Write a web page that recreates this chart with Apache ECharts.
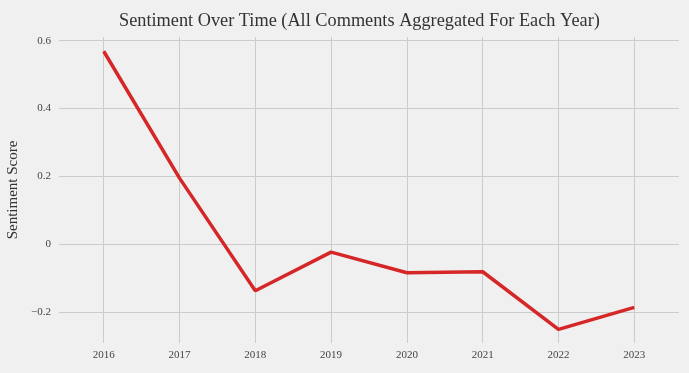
<!DOCTYPE html>
<html>
<head>
<meta charset="utf-8">
<script src="https://cdn.jsdelivr.net/npm/echarts@6/dist/echarts.min.js"></script>
<style>html,body{margin:0;padding:0;background:#f0f0f0}#c{width:689px;height:373px}</style>
</head>
<body>
<div id="c"></div>
<script>
const years = [2016, 2017, 2018, 2019, 2020, 2021, 2022, 2023];
const sentiment = [0.569, 0.195, -0.137, -0.023, -0.084, -0.081, -0.251, -0.186];
const yTicks = [-0.2, 0, 0.2, 0.4, 0.6];
const titleText = 'Sentiment Over Time (All Comments Aggregated For Each Year)';
const yName = 'Sentiment Score';

const chart = echarts.init(document.getElementById('c'), null, {renderer: 'canvas'});
const serif = '"Liberation Serif", "DejaVu Serif", serif';
chart.setOption({
  backgroundColor: '#f0f0f0',
  animation: false,
  title: {
    text: titleText, left: 119 - 5, top: 7,
    textStyle: {fontFamily: serif, fontSize: 18.3, fontWeight: 'normal', color: '#333'}
  },
  grid: {left: 59, right: 10, top: 37, bottom: 30, containLabel: false, outerBoundsMode: 'none'},
  xAxis: {
    type: 'value', min: 2015.41, max: 2023.59,
    axisLine: {show: false}, axisTick: {show: false, customValues: years},
    axisLabel: {customValues: years, fontFamily: serif, fontSize: 11, color: '#444', margin: 7, formatter: v => String(v)},
    splitLine: {show: true, lineStyle: {color: '#cbcbcb', width: 1}}
  },
  yAxis: {
    type: 'value', min: -0.291, max: 0.611,
    name: yName, nameLocation: 'middle', nameGap: 37, nameRotate: 90,
    nameTextStyle: {fontFamily: serif, fontSize: 15, color: '#333'},
    axisLine: {show: false}, axisTick: {show: false, customValues: yTicks},
    axisLabel: {customValues: yTicks, fontFamily: serif, fontSize: 11, color: '#444', margin: 8,
      formatter: v => (Math.abs(v) < 1e-9 ? '0' : (v < 0 ? '\u2212' + Math.abs(v).toFixed(1) : v.toFixed(1)))},
    splitLine: {show: true, lineStyle: {color: '#cbcbcb', width: 1}}
  },
  series: [{
    type: 'line',
    data: years.map((y, i) => [y, sentiment[i]]),
    showSymbol: false, symbol: 'none',
    lineStyle: {color: '#d62728', width: 3.5},
    itemStyle: {color: '#d62728'}
  }]
});
</script>
</body>
</html>
